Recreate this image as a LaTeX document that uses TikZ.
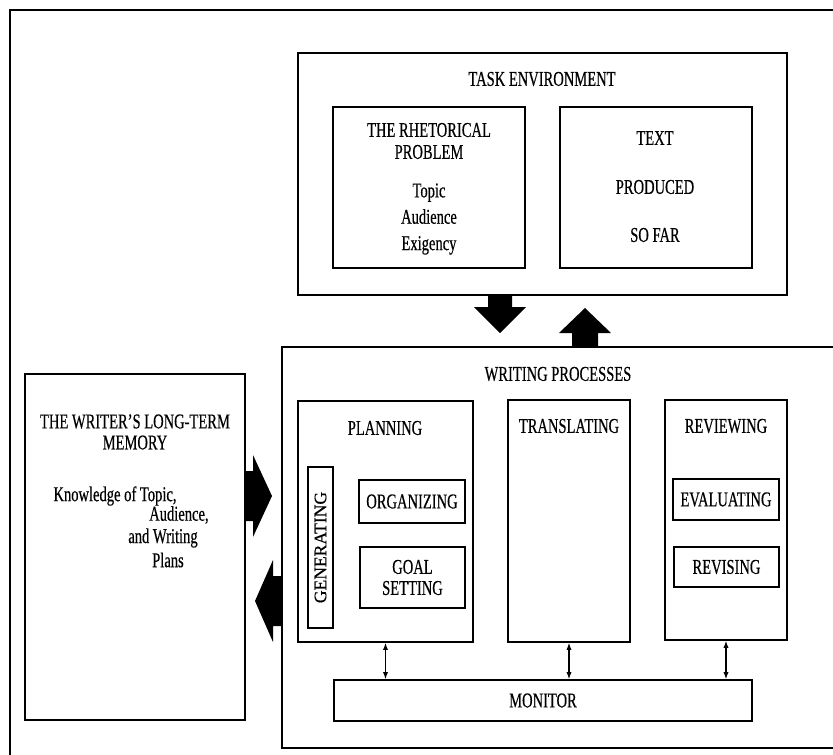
\documentclass[tikz,border=0pt]{standalone}
\usepackage{fontspec}
\setmainfont{Liberation Serif}[FakeStretch=0.69, FakeBold=0.4]
\newfontfamily\widefont{Liberation Serif}[FakeBold=0.4]
\usetikzlibrary{arrows.meta, positioning, fit}

\begin{document}
\begin{tikzpicture}[
    x=0.02cm, y=-0.02cm,
    font=\fontsize{12}{13}\selectfont,
    box/.style={draw, line width=1pt, inner sep=0pt},
    txt/.style={inner sep=0pt, align=center},
    link/.style={{Latex[length=4pt,width=3pt]}-{Latex[length=4pt,width=3pt]}, line width=0.7pt}
]
    \useasboundingbox (0,0) rectangle (833,755);
    % outer frame
    \draw[line width=1pt] (10,780) |- (860,10);

    % Task environment
    \node[box, fit={(298,53) (787,295)}] (task) {};
    \node[txt] (tasktitle) at (542,79) {TASK ENVIRONMENT};
    \node[box, fit={(333,107) (525,268)}] (rhet) {};
    \node[txt, font=\fontsize{12}{12.5}\selectfont] (rhettitle) at (429,141) {THE RHETORICAL\\PROBLEM};
    \node[txt, font=\fontsize{12}{15}\selectfont] (rhetlist) at (429,219) {Topic\\Audience\\Exigency};
    \node[box, fit={(560,107) (752,268)}] (text) {};
    \node[txt] (textA) at (655,138) {TEXT};
    \node[txt] (textB) at (655,187) {PRODUCED};
    \node[txt] (textC) at (655,235) {SO FAR};

    % Long-term memory
    \node[box, fit={(25,374) (245,720)}] (ltm) {};
    \node[txt, font=\fontsize{12}{12}\selectfont] (ltmtitle) at (135,432) {THE WRITER'S LONG-TERM\\MEMORY};
    \node[txt] (knowA) at (115,496) {Knowledge of Topic,};
    \node[txt, anchor=east] (knowB) at (209,515) {Audience,};
    \node[txt] (knowC) at (163,538) {and Writing};
    \node[txt] (knowD) at (168,560) {Plans};

    % Writing processes
    \node[box, fit={(282,347) (860,748)}] (wp) {};
    \node[txt] (wptitle) at (558,374) {WRITING PROCESSES};

    \node[box, fit={(298,401) (473,642)}] (plan) {};
    \node[txt] (plantitle) at (385,428) {PLANNING};
    \node[box, fit={(308,467) (333,628)}] (gen) {};
    \node[txt, rotate=90, font=\widefont\fontsize{10}{12}\selectfont] (gentext) at (gen.center) {GENERATING};
    \node[box, fit={(359,480) (465,523)}] (org) {};
    \node[txt] (orgtext) at (org.center) {ORGANIZING};
    \node[box, fit={(360,547) (465,608)}] (goal) {};
    \node[txt, font=\fontsize{12}{12}\selectfont] (goaltext) at (goal.center) {GOAL\\SETTING};

    \node[box, fit={(508,400) (630,642)}] (trans) {};
    \node[txt] (transtitle) at (569,426) {TRANSLATING};

    \node[box, fit={(665,400) (787,640)}] (rev) {};
    \node[txt] (revtitle) at (726,426) {REVIEWING};
    \node[box, fit={(673,479) (779,520)}] (eval) {};
    \node[txt] (evaltext) at (eval.center) {EVALUATING};
    \node[box, fit={(674,547) (779,587)}] (revise) {};
    \node[txt] (revisetext) at (revise.center) {REVISING};

    \node[box, fit={(334,680) (752,721)}] (mon) {};
    \node[txt] (montext) at (mon.center) {MONITOR};

    % links to monitor
    \draw[link] (plan.south) -- (plan.south |- mon.north);
    \draw[link] (trans.south) -- (trans.south |- mon.north);
    \draw[link] (rev.south) -- (rev.south |- mon.north);

    % block arrows
    \fill (488,295) -- (512,295) -- (512,307) -- (526,307) -- (500,333) -- (474,307) -- (488,307) -- cycle;
    \fill (572,347) -- (598,347) -- (598,333) -- (611,333) -- (585,308) -- (559,333) -- (572,333) -- cycle;
    \fill (245,471) -- (253,471) -- (253,455) -- (272,496) -- (253,537) -- (253,521) -- (245,521) -- cycle;
    \fill (282,576) -- (273,576) -- (273,560) -- (255,601) -- (273,642) -- (273,626) -- (282,626) -- cycle;
\end{tikzpicture}
\end{document}
